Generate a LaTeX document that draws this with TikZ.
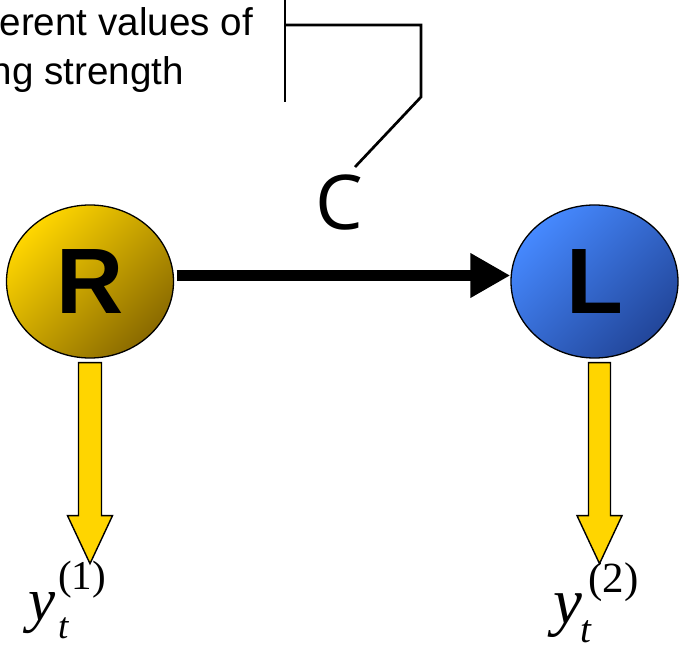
\documentclass[tikz,border=0pt]{standalone}
\usepackage{fontspec}
\setmainfont{Liberation Serif}
\newfontfamily\arialfont{Liberation Sans}
\newfontfamily\opensansfont{Open Sans}
\usetikzlibrary{shapes.geometric,arrows.meta,calc}
\definecolor{goldlight}{HTML}{FFD600}
\definecolor{golddark}{HTML}{8A6A00}
\definecolor{bluelight}{HTML}{4689FF}
\definecolor{bluedark}{HTML}{22469A}
\definecolor{arrowyellow}{HTML}{FFD500}
\begin{document}
\begin{tikzpicture}[x=1pt,y=1pt,
  oval/.style={ellipse, draw=black, line width=1.3pt, minimum width=167pt,
    minimum height=153pt, inner sep=0pt,
    font=\arialfont\bfseries\fontsize{93}{93}\selectfont},
  blockarrow/.style={fill=arrowyellow, draw=black, line width=1.4pt, line join=miter},
  bracketline/.style={draw=black, line width=2.7pt},
  topnote/.style={anchor=base east, inner sep=0pt, font=\arialfont\fontsize{38.6}{46}\selectfont},
  lab/.style={anchor=base west, inner sep=0pt}]
\useasboundingbox (0,0) rectangle (685,651);
\clip (0,0) rectangle (685,651);
% top note text (cropped in the reference)
\node[topnote] (txt1) at (253,615) {erent values of};
\node[topnote] (txt2) at (184,566) {ng strength};
% bracket callout
\coordinate (b0) at (285,653);
\coordinate (b1) at (285,549);
\coordinate (b2) at (285,626);
\coordinate (b3) at (421,626);
\coordinate (b4) at (421,554);
\coordinate (b5) at (355,484);
\draw[bracketline] (b0) -- (b1);
\draw[bracketline, line join=miter] (b2) -- (b3) -- (b4) -- (b5);
\node[inner sep=0pt, font=\opensansfont\fontsize{75.6}{76}\selectfont] (C) at (339.5,448) {C};
% nodes
\node[oval, top color=goldlight, bottom color=golddark, shading angle=45] (R) at (90,369.5) {R};
\node[oval, top color=bluelight, bottom color=bluedark, shading angle=45] (L) at (594.5,369.5) {L};
% coupling arrow
\draw[line width=11pt, shorten <=2.5pt, -{Triangle[length=40pt,width=42pt]}]
  ([yshift=6pt]R.east) -- ([yshift=6pt]L.west);
% output arrows
\begin{scope}[shift={(R.south)}]
\draw[blockarrow] (-11.5,-4) -- (11.5,-4) -- (11.5,-157) -- (22.5,-157) -- (0,-205)
  -- (-22.5,-157) -- (-11.5,-157) -- cycle;
\end{scope}
\begin{scope}[shift={(L.south)}]
\draw[blockarrow] (-6,-4) -- (16,-4) -- (16,-157) -- (27.5,-157) -- (5,-205)
  -- (-17.5,-157) -- (-6,-157) -- cycle;
\end{scope}
% labels
\node[lab, font=\itshape\fontsize{61}{61}\selectfont] (y1) at (28,31) {y};
\node[lab, font=\itshape\fontsize{37}{37}\selectfont] (t1) at (58,13) {t};
\node[lab, font=\fontsize{41}{41}\selectfont] (s1) at (58,62) {(1)};
\node[lab, font=\itshape\fontsize{65}{65}\selectfont] (y2) at (553,28) {y};
\node[lab, font=\itshape\fontsize{39}{39}\selectfont] (t2) at (580,9) {t};
\node[lab, font=\fontsize{43}{43}\selectfont] (s2) at (588,59) {(2)};
\end{tikzpicture}
\end{document}
